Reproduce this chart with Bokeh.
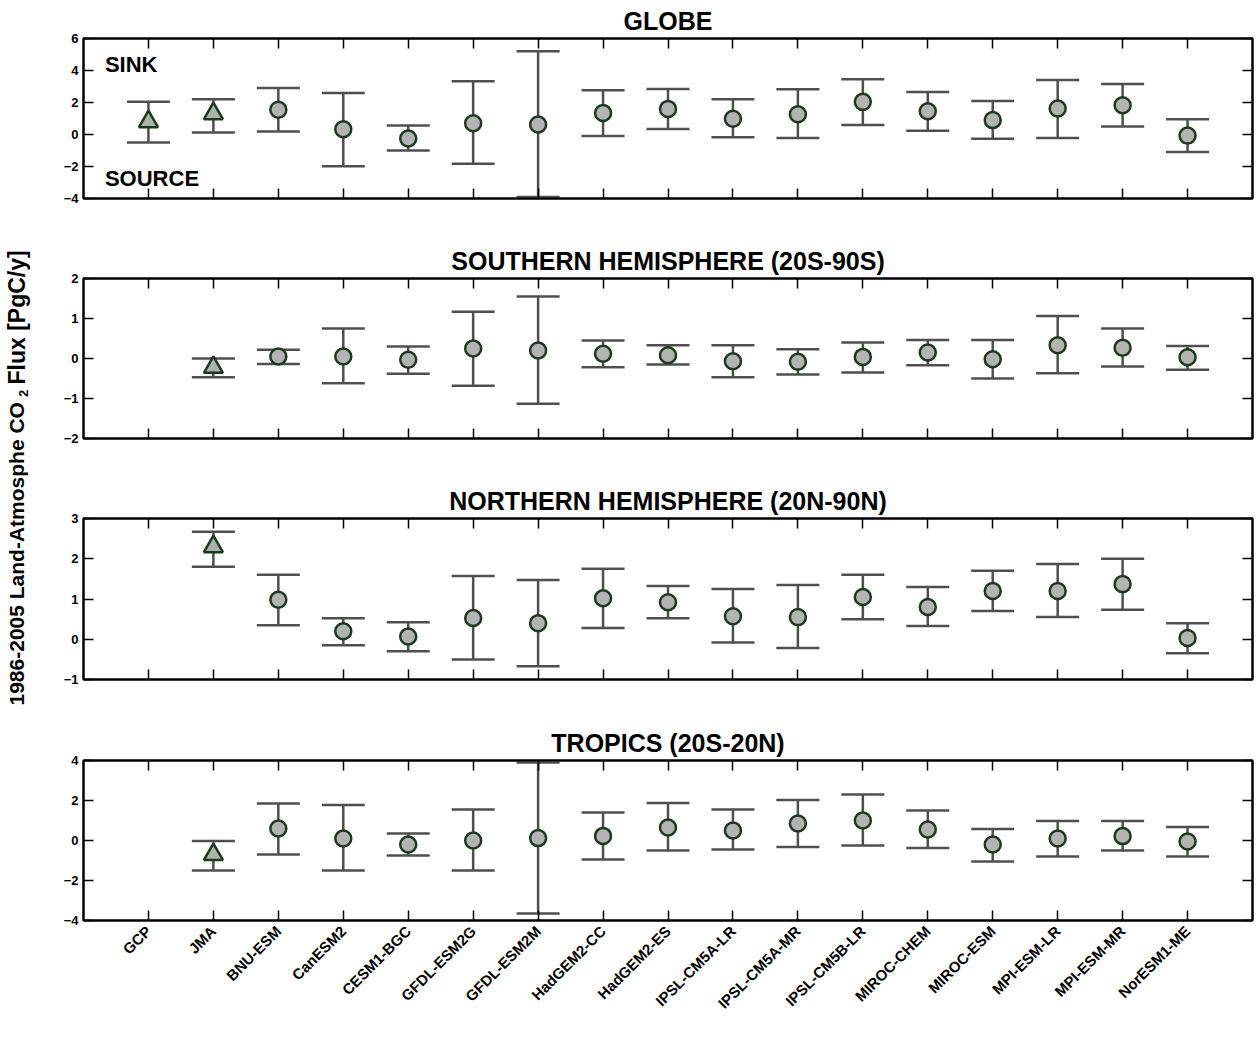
from math import pi
from bokeh.plotting import figure
from bokeh.models import (ColumnDataSource, Whisker, TeeHead, FixedTicker, LinearAxis,
                          Range1d, Label)
from bokeh.layouts import row, column
from bokeh.embed import file_html
from bokeh.resources import INLINE

# ---------------- data ----------------
models = ["GCP", "JMA", "BNU-ESM", "CanESM2", "CESM1-BGC", "GFDL-ESM2G", "GFDL-ESM2M",
          "HadGEM2-CC", "HadGEM2-ES", "IPSL-CM5A-LR", "IPSL-CM5A-MR", "IPSL-CM5B-LR",
          "MIROC-CHEM", "MIROC-ESM", "MPI-ESM-LR", "MPI-ESM-MR", "NorESM1-ME"]
markers = ["triangle", "triangle"] + ["circle"] * 15

globe_mean = [0.8, 1.3, 1.55, 0.33, -0.25, 0.7, 0.63, 1.35, 1.6, 0.98, 1.27, 2.04, 1.45, 0.9, 1.62, 1.83, -0.07]
globe_low = [-0.5, 0.12, 0.18, -1.98, -1.0, -1.83, -3.9, -0.1, 0.35, -0.17, -0.22, 0.6, 0.23, -0.27, -0.22, 0.5, -1.1]
globe_high = [2.05, 2.2, 2.9, 2.6, 0.57, 3.33, 5.2, 2.77, 2.85, 2.2, 2.83, 3.46, 2.65, 2.1, 3.4, 3.15, 0.95]

sh_mean = [None, -0.22, 0.05, 0.05, -0.03, 0.25, 0.2, 0.12, 0.08, -0.07, -0.08, 0.04, 0.15, -0.02, 0.33, 0.27, 0.03]
sh_low = [None, -0.47, -0.14, -0.62, -0.38, -0.68, -1.13, -0.22, -0.15, -0.47, -0.4, -0.35, -0.17, -0.5, -0.37, -0.2, -0.28]
sh_high = [None, 0.0, 0.22, 0.75, 0.3, 1.17, 1.55, 0.45, 0.33, 0.33, 0.23, 0.4, 0.46, 0.46, 1.06, 0.75, 0.31]

nh_mean = [None, 2.3, 0.98, 0.2, 0.07, 0.53, 0.4, 1.02, 0.92, 0.57, 0.55, 1.05, 0.8, 1.2, 1.2, 1.37, 0.03]
nh_low = [None, 1.8, 0.35, -0.15, -0.3, -0.5, -0.67, 0.28, 0.52, -0.08, -0.22, 0.5, 0.33, 0.7, 0.55, 0.73, -0.35]
nh_high = [None, 2.67, 1.6, 0.52, 0.42, 1.57, 1.47, 1.75, 1.32, 1.25, 1.35, 1.6, 1.3, 1.7, 1.87, 2.0, 0.4]

tr_mean = [None, -0.7, 0.6, 0.1, -0.2, 0.0, 0.12, 0.23, 0.65, 0.5, 0.85, 1.0, 0.55, -0.2, 0.1, 0.22, -0.05]
tr_low = [None, -1.5, -0.7, -1.5, -0.75, -1.5, -3.65, -0.95, -0.5, -0.45, -0.32, -0.25, -0.38, -1.05, -0.8, -0.5, -0.8]
tr_high = [None, -0.03, 1.85, 1.77, 0.35, 1.55, 3.9, 1.4, 1.87, 1.55, 2.02, 2.3, 1.5, 0.58, 0.97, 0.97, 0.68]

titles = ["GLOBE", "SOUTHERN HEMISPHERE (20S-90S)", "NORTHERN HEMISPHERE (20N-90N)", "TROPICS (20S-20N)"]
y_limits = [(-4, 6), (-2, 2), (-1, 3), (-4, 4)]
y_ticks = [[-4, -2, 0, 2, 4, 6], [-2, -1, 0, 1, 2], [-1, 0, 1, 2, 3], [-4, -2, 0, 2, 4]]
ylabel_parts = ["1986-2005 Land-Atmosphe CO", "2", "Flux [PgC/y]"]

# ---------------- style ----------------
FONT = "Liberation Sans"
BAR = "#4f4f4f"
EDGE = "#1e3a1e"
FILL_C = "#b3b3b3"
FILL_T = "#aab4aa"
LW = 38
PW = 1218


def make_panel(title, mean, low, high, ylim, yticks, height, btop, bbot, show_x):
    p = figure(width=PW, height=height, x_range=Range1d(0, len(models) + 1),
               y_range=Range1d(*ylim), output_backend="svg", toolbar_location=None,
               min_border_left=45, min_border_right=4, min_border_top=btop,
               min_border_bottom=bbot, x_axis_location=None, y_axis_location=None)
    p.grid.visible = False
    p.outline_line_color = "black"
    p.outline_line_width = 2
    p.background_fill_color = "white"
    p.border_fill_color = "white"

    p.title.text = title
    p.title.align = "center"
    p.title.text_font = FONT
    p.title.text_font_style = "bold"
    p.title.text_font_size = "25px"
    p.title.text_color = "black"
    p.title.standoff = 8

    idx = [i for i, v in enumerate(mean) if v is not None]
    src = ColumnDataSource(dict(
        x=[i + 1 for i in idx],
        m=[mean[i] for i in idx],
        lo=[low[i] for i in idx],
        hi=[high[i] for i in idx],
        mk=[markers[i] for i in idx],
        sz=[19 if markers[i] == "triangle" else 16 for i in idx],
        fc=[FILL_T if markers[i] == "triangle" else FILL_C for i in idx],
    ))
    w = Whisker(base="x", upper="hi", lower="lo", source=src, line_color=BAR, line_width=2.5,
                upper_head=TeeHead(size=43, line_color=BAR, line_width=2.5),
                lower_head=TeeHead(size=43, line_color=BAR, line_width=2.5))
    p.add_layout(w)
    p.scatter("x", "m", source=src, marker="mk", size="sz", fill_color="fc",
              line_color=EDGE, line_width=2.5)

    xt = FixedTicker(ticks=list(range(1, len(models) + 1)))
    yt = FixedTicker(ticks=yticks)

    def style(ax, labels):
        ax.axis_line_color = "black"
        ax.axis_line_width = 2
        ax.major_tick_in = 10
        ax.major_tick_out = 0
        ax.major_tick_line_width = 1.5
        ax.major_tick_line_color = "black"
        ax.minor_tick_line_color = None
        ax.major_label_text_font = FONT
        ax.major_label_text_font_style = "bold"
        ax.major_label_text_color = "black"
        if not labels:
            ax.major_label_text_color = None
            ax.major_label_text_font_size = "1px"
            ax.major_label_standoff = 0

    bottom = LinearAxis(ticker=xt)
    style(bottom, show_x)
    if show_x:
        bottom.major_label_overrides = {i + 1: m for i, m in enumerate(models)}
        bottom.major_label_orientation = pi / 4
        bottom.major_label_text_font_size = "15px"
        bottom.major_label_standoff = 8
    p.add_layout(bottom, "below")
    top = LinearAxis(ticker=xt)
    style(top, False)
    p.add_layout(top, "above")

    left = LinearAxis(ticker=yt)
    style(left, True)
    left.major_label_text_font_size = "13px"
    left.major_label_standoff = 5
    p.add_layout(left, "left")
    right = LinearAxis(ticker=yt)
    style(right, False)
    p.add_layout(right, "right")
    return p


heights = [230, 240, 240, 310]
btops = [36, 48, 48, 50]
bbots = [32, 32, 31, 99]
series = [(globe_mean, globe_low, globe_high), (sh_mean, sh_low, sh_high),
          (nh_mean, nh_low, nh_high), (tr_mean, tr_low, tr_high)]

panels = []
for k in range(4):
    m, lo, hi = series[k]
    panels.append(make_panel(titles[k], m, lo, hi, y_limits[k], y_ticks[k], heights[k],
                             btops[k], bbots[k], k == 3))

p1 = panels[0]
for txt, yv in (("SINK", 4.4), ("SOURCE", -2.78)):
    p1.add_layout(Label(x=0.33, y=yv, text=txt, text_font=FONT, text_font_style="bold",
                        text_font_size="22px", text_baseline="middle", text_align="left",
                        text_color="black"))

# y-axis label column
H = sum(heights)
lab = figure(width=LW, height=H, x_range=Range1d(0, LW), y_range=Range1d(H, 0),
             output_backend="svg", toolbar_location=None, min_border=0,
             x_axis_location=None, y_axis_location=None)
lab.grid.visible = False
lab.outline_line_color = None
lab.add_layout(Label(x=16, y=705, text=ylabel_parts[0], angle=pi / 2, text_font=FONT,
                     text_font_style="bold", text_font_size="21px", text_align="left",
                     text_baseline="middle", text_color="black"))
lab.add_layout(Label(x=23, y=393, text=ylabel_parts[1], angle=pi / 2, text_font=FONT,
                     text_font_style="bold", text_font_size="13px", text_align="center",
                     text_baseline="middle", text_color="black"))
lab.add_layout(Label(x=16, y=384, text=ylabel_parts[2], angle=pi / 2, text_font=FONT,
                     text_font_style="bold", text_font_size="23px", text_align="left",
                     text_baseline="middle", text_color="black"))

layout = row(lab, column(*panels))
open("out.html", "w").write(file_html(layout, INLINE))
